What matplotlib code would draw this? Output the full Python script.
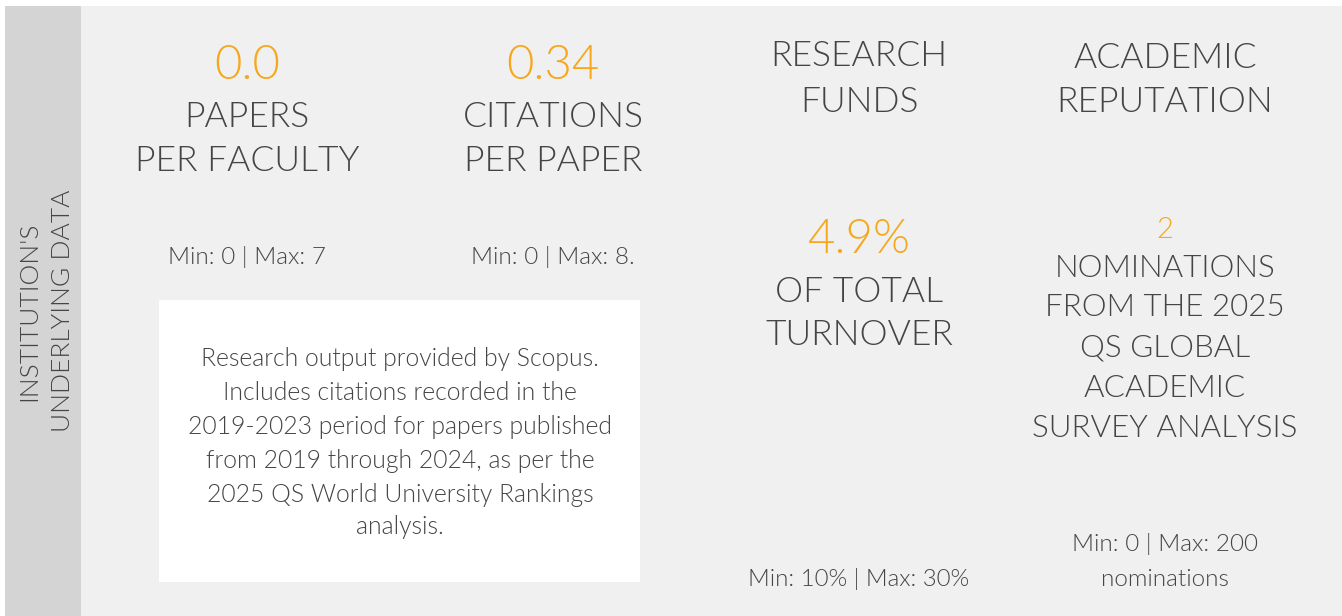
import matplotlib
matplotlib.use("Agg")
from matplotlib import pyplot as plt
from matplotlib.patches import Rectangle

plt.rcParams['font.family'] = ['Lato', 'DejaVu Sans']

# chart content
side_title = ["INSTITUTION'S", "UNDERLYING DATA"]

headline_values = ["0.0", "0.34"]
headline_labels = [["PAPERS", "PER FACULTY"], ["CITATIONS", "PER PAPER"]]
headline_ranges = ["Min: 0 | Max: 7", "Min: 0 | Max: 8."]

funds_title = ["RESEARCH", "FUNDS"]
funds_value = "4.9%"
funds_label = ["OF TOTAL", "TURNOVER"]
funds_range = "Min: 10% | Max: 30%"

rep_title = ["ACADEMIC", "REPUTATION"]
rep_value = "2"
rep_label = ["NOMINATIONS", "FROM THE 2025", "QS GLOBAL", "ACADEMIC", "SURVEY ANALYSIS"]
rep_range = ["Min: 0 | Max: 200", "nominations"]

note_text = ["Research output provided by Scopus.",
             "Includes citations recorded in the",
             "2019-2023 period for papers published",
             "from 2019 through 2024, as per the",
             "2025 QS World University Rankings",
             "analysis."]

ORANGE = "#f6a71c"
TEXT = "#454545"
col_centers = [247, 553, 859, 1165]

fig = plt.figure(figsize=(13.42, 6.16), dpi=100)
ax = fig.add_axes([0, 0, 1, 1])
ax.set_xlim(0, 1342)
ax.set_ylim(616, 0)
ax.axis("off")


def line(x, y, s, size, color=TEXT):
    # y is the visual middle of the capitals
    px = size * 100 / 72
    ax.text(x, y + 0.36 * px, s, ha="center", va="baseline", fontsize=size,
            color=color, fontweight=300)


def lines(x, ys, strs, size, color=TEXT):
    for y, s in zip(ys, strs):
        line(x, y, s, size, color)


# backgrounds
ax.add_patch(Rectangle((5, 6), 76, 610, color="#d4d4d4", lw=0))
ax.add_patch(Rectangle((81, 6), 1261, 610, color="#f0f0f0", lw=0))
ax.add_patch(Rectangle((159, 300), 481, 282, color="white", lw=0))

for xs, s in zip([27, 60], side_title):
    ax.text(xs + 0.36 * 19 * 100 / 72, 311, s, rotation=90, ha="center",
            va="baseline", fontsize=19, color=TEXT, fontweight=300,
            rotation_mode="anchor")

# papers / citations columns
for i in range(2):
    x = col_centers[i]
    line(x, 62, headline_values[i], 34, ORANGE)
    lines(x, [114, 158], headline_labels[i], 25.5)
    line(x, 255, headline_ranges[i], 17.5)

lines(400, [357, 391, 425, 459, 493, 525], note_text, 17.8)

# research funds
x = col_centers[2]
lines(x, [53, 99], funds_title, 25.5)
line(x, 236, funds_value, 34, ORANGE)
lines(x, [289, 332], funds_label, 25.5)
line(x, 577, funds_range, 17.3)

# academic reputation
x = col_centers[3]
lines(x, [55, 99], rep_title, 25.5)
line(x, 227, rep_value, 21, ORANGE)
lines(x, [266, 305, 345, 386, 426], rep_label, 22.6)
lines(x, [542, 577], rep_range, 17.5)

fig.savefig("out.png", dpi=100)
